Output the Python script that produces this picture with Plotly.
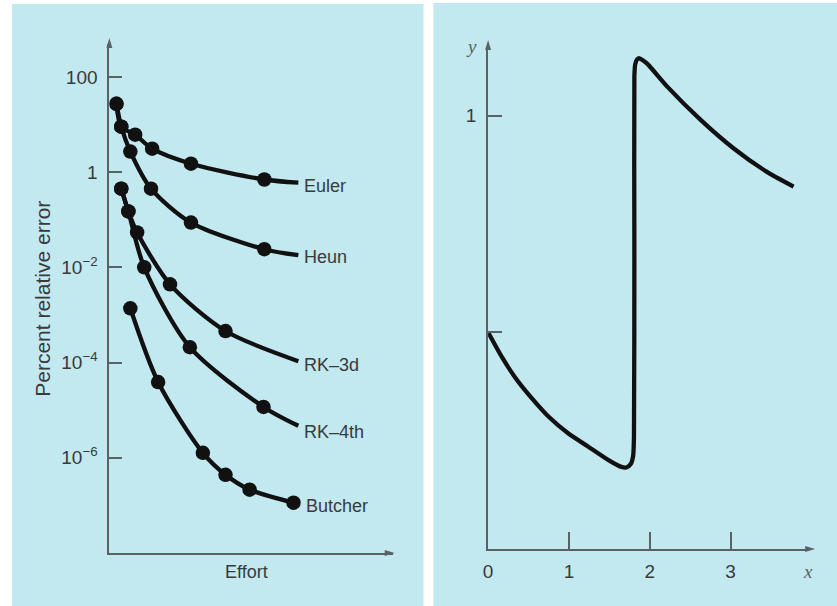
import math
import plotly.graph_objects as go

W, H = 837, 606

# ---------------- Left panel data (effort in arbitrary units, error in %) ----------------
euler_x = [0.25, 0.42, 0.91, 1.51, 2.88, 5.47, 6.67]
euler_y = [27.2, 9.0, 6.1, 3.1, 1.5, 0.70, 0.60]

heun_x = [0.25, 0.42, 0.74, 1.47, 2.88, 5.47, 6.67]
heun_y = [27.2, 9.0, 2.7, 0.45, 0.087, 0.024, 0.018]

rk3_x = [0.42, 0.67, 0.98, 2.14, 4.10, 6.67]
rk3_y = [0.45, 0.149, 0.054, 0.0044, 4.6e-4, 1.07e-4]

rk4_x = [0.42, 0.67, 1.23, 2.84, 5.44, 6.67]
rk4_y = [0.45, 0.149, 0.010, 2.1e-4, 1.17e-5, 4.7e-6]

butcher_x = [0.74, 1.72, 3.30, 4.10, 4.95, 6.50]
butcher_y = [1.38e-3, 3.9e-5, 1.27e-6, 4.4e-7, 2.14e-7, 1.14e-7]

method_names = ["Euler", "Heun", "RK–3d", "RK–4th", "Butcher"]

left_tickvals = [100, 1, 1e-2, 1e-4, 1e-6]
left_ticktext = ["100", "1", "10<sup>−2</sup>", "10<sup>−4</sup>", "10<sup>−6</sup>"]

# ---------------- Right panel data ----------------
curve_x = [0.0, 0.17, 0.33, 0.54, 0.75, 0.99, 1.24, 1.49, 1.64, 1.71, 1.765, 1.795, 1.805, 1.81, 1.81,
           1.82, 1.845, 1.873, 1.91, 1.977, 2.22, 2.63, 3.04, 3.45, 3.78]
curve_y = [0.5, 0.443, 0.397, 0.348, 0.305, 0.267, 0.236, 0.205, 0.190, 0.188, 0.196, 0.215, 0.26, 0.70, 1.09,
           1.118, 1.130, 1.132, 1.128, 1.118, 1.066, 0.990, 0.924, 0.870, 0.836]

right_xticks = [0, 1, 2, 3]
right_yticks = [1]
right_yminor = [0.5]

# ---------------- Styling ----------------
PANEL = "#c2e8f0"
AX = "#5a6266"
TXT = "#3a3a3a"
INK = "#111111"
FONT = "Liberation Sans, Arial, sans-serif"
SERIF = "Liberation Serif, Times New Roman, serif"

fig = go.Figure()

series = [(euler_x, euler_y, False), (heun_x, heun_y, False), (rk3_x, rk3_y, False),
          (rk4_x, rk4_y, False), (butcher_x, butcher_y, True)]
label_shift = [-3, -2, -4, -6, -3]
label_xshift = [4, 4, 4, 4, 10]

for (xs, ys, end_marker), name, ysh, xsh in zip(series, method_names, label_shift, label_xshift):
    fig.add_trace(go.Scatter(x=xs, y=ys, mode="lines", line=dict(color=INK, width=4.3, shape="spline", smoothing=0.8),
                             xaxis="x", yaxis="y", showlegend=False, hoverinfo="skip"))
    mx = xs if end_marker else xs[:-1]
    my = ys if end_marker else ys[:-1]
    fig.add_trace(go.Scatter(x=mx, y=my, mode="markers", marker=dict(color=INK, size=14.5),
                             xaxis="x", yaxis="y", showlegend=False, hoverinfo="skip"))
    fig.add_annotation(x=xs[-1], y=math.log10(ys[-1]), xref="x", yref="y", text=name, showarrow=False,
                       xanchor="left", yanchor="middle", xshift=xsh, yshift=ysh,
                       font=dict(family=FONT, size=18, color=TXT))

fig.add_trace(go.Scatter(x=curve_x, y=curve_y, mode="lines",
                         line=dict(color=INK, width=4.3, shape="spline", smoothing=0.6),
                         xaxis="x2", yaxis="y2", showlegend=False, hoverinfo="skip"))

# panel backgrounds
fig.add_shape(type="rect", xref="paper", yref="paper", x0=7 / W, x1=421 / W, y0=0.0, y1=1 - 4 / H,
              fillcolor=PANEL, line=dict(width=0), layer="below")
fig.add_shape(type="rect", xref="paper", yref="paper", x0=431 / W, x1=1.0, y0=0.0, y1=1 - 3 / H,
              fillcolor=PANEL, line=dict(width=0), layer="below")


def arrowhead(tip, direction, length=10, half=3.0):
    """Narrow arrowhead path in paper coordinates; tip given in pixels."""
    tx, ty = tip
    if direction == "up":
        pts = [(tx, ty), (tx - half, ty + length), (tx + half, ty + length)]
    else:
        pts = [(tx, ty), (tx - length, ty - half), (tx - length, ty + half)]
    p = ["%s%.5f,%.5f" % ("M" if i == 0 else "L", x / W, 1 - y / H) for i, (x, y) in enumerate(pts)]
    return " ".join(p) + " Z"


for tip, d in [((105, 38), "up"), ((392, 553), "right"), ((486, 40), "up"), ((815, 549), "right")]:
    fig.add_shape(type="path", xref="paper", yref="paper", path=arrowhead(tip, d),
                  fillcolor=AX, line=dict(width=0), layer="above")

xmax_left = 10.0
ytop_left = 2 + 33 / 47.75
x2max = (808 - 486) / 81.3
y2max = (549 - 46) / 433.5

axis_common = dict(showgrid=False, zeroline=False, showline=True, linecolor=AX, linewidth=2,
                   tickcolor=AX, tickwidth=2, ticks="inside",
                   tickfont=dict(family=FONT, size=19, color=TXT))

fig.update_layout(
    width=W, height=H, margin=dict(l=0, r=0, t=0, b=0),
    paper_bgcolor="white", plot_bgcolor="rgba(0,0,0,0)",
    xaxis=dict(domain=[105 / W, 390 / W], range=[0, xmax_left], anchor="y", showticklabels=False,
               **{**axis_common, "ticks": ""}),
    yaxis=dict(domain=[1 - 553 / H, 1 - 44 / H], type="log", range=[-8, ytop_left], anchor="x",
               tickvals=left_tickvals, ticktext=left_ticktext, ticklen=13, ticklabelstandoff=6, **axis_common),
    xaxis2=dict(domain=[486 / W, 808 / W], range=[0, x2max], anchor="y2", tickvals=right_xticks,
                ticklen=17, ticklabelstandoff=4, **axis_common),
    yaxis2=dict(domain=[1 - 549 / H, 1 - 46 / H], range=[0, y2max], anchor="x2", tickvals=right_yticks,
                ticklen=14, ticklabelstandoff=6,
                minor=dict(tickvals=right_yminor, ticks="inside", ticklen=14, tickcolor=AX, tickwidth=2),
                **axis_common),
)

# axis titles
title_font = dict(family=FONT, size=18, color=TXT)
fig.add_annotation(xref="paper", yref="paper", x=243 / W, y=1 - 572 / H, text="Effort", showarrow=False,
                   xanchor="center", yanchor="middle", font=title_font)
fig.add_annotation(xref="paper", yref="paper", x=38 / W, y=1 - 299 / H, text="Percent relative error",
                   textangle=-90, showarrow=False, xanchor="center", yanchor="middle",
                   font=dict(family=FONT, size=21, color=TXT))
fig.add_annotation(xref="paper", yref="paper", x=469 / W, y=1 - 46 / H, text="<i>y</i>", showarrow=False,
                   xanchor="center", yanchor="middle", font=dict(family=SERIF, size=19, color=AX))
fig.add_annotation(xref="paper", yref="paper", x=808 / W, y=1 - 571 / H, text="<i>x</i>", showarrow=False,
                   xanchor="center", yanchor="middle", font=dict(family=SERIF, size=19, color=AX))

fig.write_html("out.html", config={"displayModeBar": False},
               post_script="document.body.style.margin='0';")
